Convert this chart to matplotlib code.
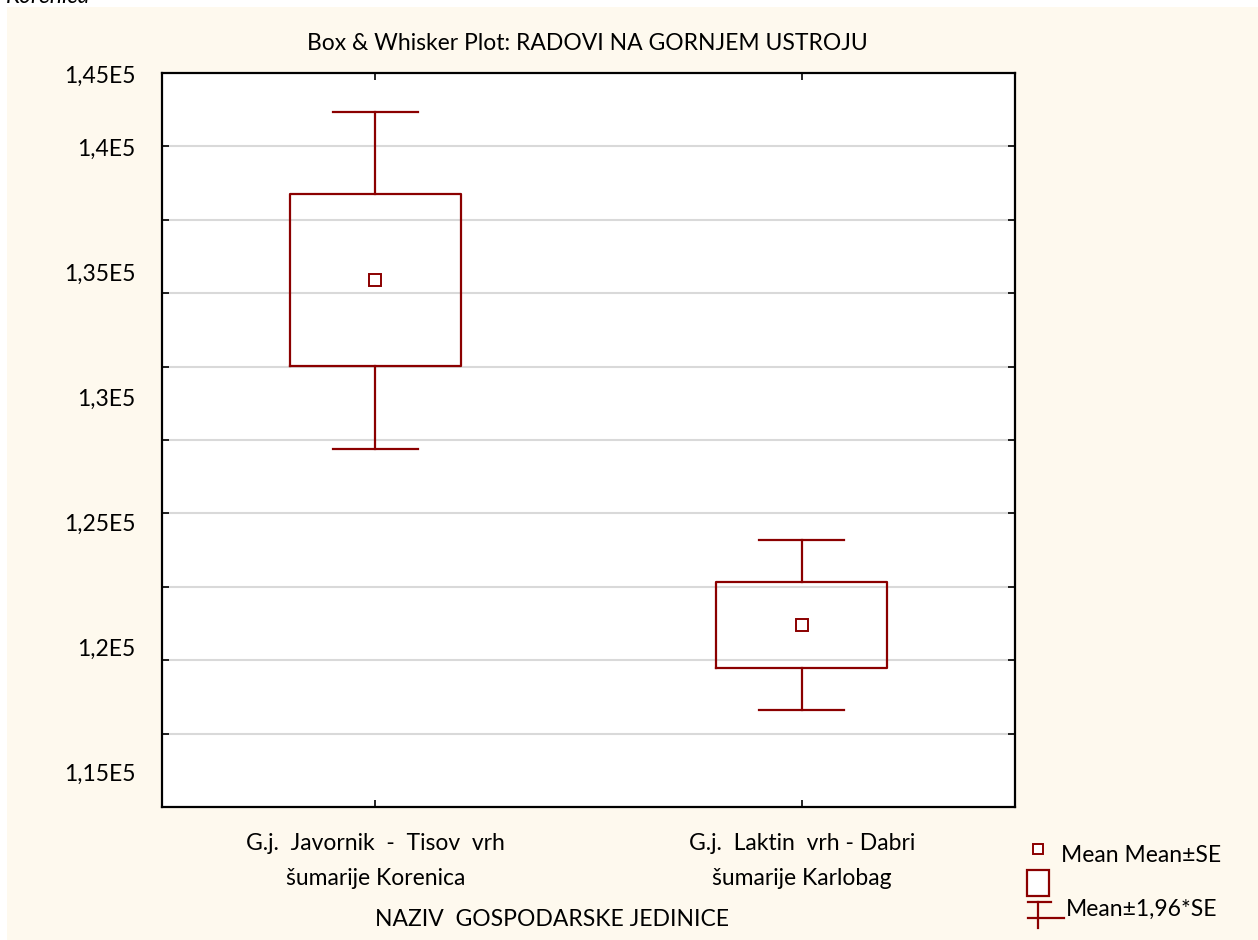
import numpy as np
import matplotlib.pyplot as plt
from matplotlib.patches import Rectangle
from matplotlib.lines import Line2D
import matplotlib.transforms as mtransforms

plt.rcParams['font.family'] = ['Lato', 'DejaVu Sans']

# data
categories = ['G.j.  Javornik  -  Tisov  vrh\nšumarije Korenica',
              'G.j.  Laktin  vrh - Dabri\nšumarije Karlobag']
means = [134750, 120960]
se = [3440, 1730]
ytick_values = [145000, 140000, 135000, 130000, 125000, 120000, 115000]
ytick_labels = ['1,45E5', '1,4E5', '1,35E5', '1,3E5', '1,25E5', '1,2E5', '1,15E5']
y_min, y_max = 113680, 143040

red = '#8B0000'
cream = '#FEF9EE'
W, H = 1258, 940
fs = 16.5

fig = plt.figure(figsize=(W / 100, H / 100), dpi=100, facecolor='white')

def fx(px):
    return px / W

def fy(py):
    return 1 - py / H

# cream panel behind everything
fig.patches.append(Rectangle((fx(7), 0), 1 - fx(7), fy(7), transform=fig.transFigure,
                             facecolor=cream, edgecolor='none', zorder=-10))
fig.text(fx(6), fy(3), 'Korenica', fontsize=fs, style='italic', va='baseline')

ax = fig.add_axes([fx(162), fy(807), fx(1015) - fx(162), fy(73) - fy(807)])
ax.set_facecolor('white')

stats = []
for m, s in zip(means, se):
    stats.append(dict(med=m, mean=m, q1=m - s, q3=m + s,
                      whislo=m - 1.96 * s, whishi=m + 1.96 * s, fliers=[]))
pos = np.arange(1, len(categories) + 1)
ax.bxp(stats, positions=pos, widths=0.4, capwidths=0.2, showmeans=True, showfliers=False,
       boxprops=dict(color=red, linewidth=1.6),
       whiskerprops=dict(color=red, linewidth=1.6),
       capprops=dict(color=red, linewidth=1.6),
       medianprops=dict(linewidth=0),
       meanprops=dict(marker='s', markersize=9, markerfacecolor='white',
                      markeredgecolor=red, markeredgewidth=1.4),
       zorder=3)

ax.set_xlim(0.5, len(categories) + 0.5)
ax.set_ylim(y_min, y_max)

# grid at 10 equal divisions, ticks inward on all sides
ax.set_yticks(np.linspace(y_min, y_max, 11)[1:-1])
ax.set_yticklabels([])
ax.grid(axis='y', color='#D9D9D9', linewidth=1.5, zorder=0)
ax.set_axisbelow(True)
ax.set_xticks(pos)
ax.set_xticklabels(categories, fontsize=fs)
for lbl in ax.get_xticklabels():
    lbl.set_linespacing(1.8)
ax.tick_params(direction='in', length=5, width=1.2, top=True, right=True, pad=19)
for sp in ax.spines.values():
    sp.set_linewidth(1.6)
    sp.set_color('black')

# y labels (Statistica places them on its own value scale)
trans = mtransforms.blended_transform_factory(ax.transAxes, ax.transData)
for v, t in zip(ytick_values, ytick_labels):
    yy = min(v, y_max - 120)
    ax.text(-0.031, yy, t, transform=trans, ha='right', va='center', fontsize=fs,
            clip_on=False)

fig.text(fx(587), fy(44), 'Box & Whisker Plot: RADOVI NA GORNJEM USTROJU',
         ha='center', va='center', fontsize=fs)
fig.text(fx(552), fy(919), 'NAZIV  GOSPODARSKE JEDINICE', ha='center', va='center',
         fontsize=fs)

# legend
fig.add_artist(Line2D([fx(1038)], [fy(849)], marker='s', markersize=7,
                      markerfacecolor='white', markeredgecolor=red, markeredgewidth=1.4,
                      transform=fig.transFigure))
fig.add_artist(Rectangle((fx(1027), fy(896)), fx(22), 26 / H, transform=fig.transFigure,
                         facecolor='white', edgecolor=red, linewidth=1.6))
fig.add_artist(Line2D([fx(1028), fx(1051)], [fy(902), fy(902)], color=red, lw=1.6,
                      transform=fig.transFigure))
fig.add_artist(Line2D([fx(1038), fx(1038)], [fy(902), fy(928)], color=red, lw=1.6,
                      transform=fig.transFigure))
fig.add_artist(Line2D([fx(1028), fx(1064)], [fy(918), fy(918)], color=red, lw=1.6,
                      transform=fig.transFigure))
fig.text(fx(1061), fy(855), 'Mean Mean±SE', va='center', fontsize=fs)
fig.text(fx(1066), fy(909), 'Mean±1,96*SE', va='center', fontsize=fs)

fig.savefig('out.png', dpi=100)
